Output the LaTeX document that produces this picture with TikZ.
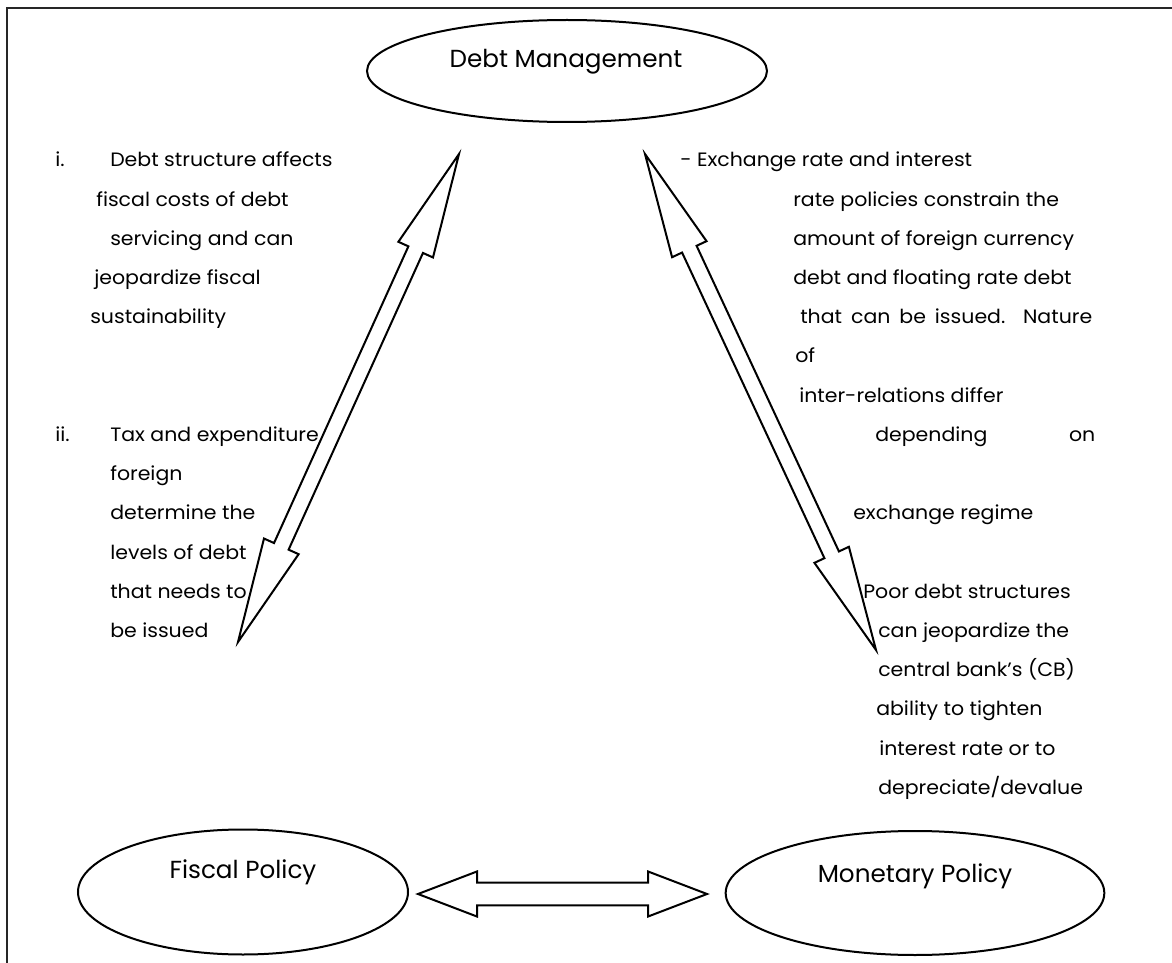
\documentclass[tikz,border=0pt]{standalone}
\usepackage{fontspec}
\setmainfont{Poppins}
\newfontfamily\bodyfam{Poppins}[FakeStretch=1.06]
\usetikzlibrary{shapes.geometric,calc}
\newcommand{\bodyfnt}{\bodyfam\fontsize{14.5}{17}\selectfont}
\newcommand{\titlefnt}{\fontsize{18.5}{22}\selectfont}
% block double arrow between two named points: #1 #2 headlen headhalf shafthalf
\newcommand{\blockarr}[5]{%
  \coordinate (ba1) at ($(#1)!#3!(#2)$);
  \coordinate (ba2) at ($(#2)!#3!(#1)$);
  \draw[arrline] (#1) -- ($(ba1)!#4!90:(#2)$) -- ($(ba1)!#5!90:(#2)$)
    -- ($(ba2)!#5!-90:(#1)$) -- ($(ba2)!#4!-90:(#1)$) -- (#2)
    -- ($(ba2)!#4!90:(#1)$) -- ($(ba2)!#5!90:(#1)$)
    -- ($(ba1)!#5!-90:(#2)$) -- ($(ba1)!#4!-90:(#2)$) -- cycle;
}
\tikzset{
  txt/.style={anchor=base west, inner sep=0pt, font=\bodyfnt, text=black},
  ttl/.style={anchor=base, inner sep=0pt, font=\titlefnt, text=black},
  ell/.style={draw=black, ellipse, line width=1.5pt, inner sep=0pt},
  arrline/.style={draw=black, line width=1.5pt, line join=miter, fill=white},
  frame/.style={draw=black!85, line width=2pt}
}
\begin{document}
\begin{tikzpicture}[x=0.75pt,y=-0.75pt]
\useasboundingbox (0,0) rectangle (1172,963);
\fill[white] (0,0) rectangle (1172,963);
% frame
\coordinate (fb) at (7,963);
\coordinate (fc) at (7,8);
\coordinate (fr) at (1172,8);
\draw[frame] (fb) -- (fc) -- (fr);

% ellipses
\node[ell, minimum width=300pt, minimum height=76.5pt] (dm) at (567,71) {};
\node[ttl] (dmt) at (566,68) {Debt Management};
\node[ell, minimum width=247.5pt, minimum height=93.75pt] (fp) at (243,892) {};
\node[ttl] (fpt) at (243,878) {Fiscal Policy};
\node[ell, minimum width=284pt, minimum height=93pt] (mp) at (915,893) {};
\node[ttl] (mpt) at (915,882) {Monetary Policy};

% arrow end points
\coordinate (lt) at (459,154);
\coordinate (lb) at (238,642);
\coordinate (rt) at (645,154);
\coordinate (rb) at (876,650);
\coordinate (hl) at (418,894);
\coordinate (hr) at (707,894);
\blockarr{lt}{lb}{78.75pt}{14.25pt}{6pt}
\blockarr{rt}{rb}{78.75pt}{14.25pt}{6pt}
\blockarr{hl}{hr}{44.25pt}{16.9pt}{8.6pt}

% left texts
\node[txt] (l0) at (55,167) {\makebox[41.25pt][l]{i.}Debt structure affects};
\node[txt] (l1) at (96,206.2) {fiscal costs of debt};
\node[txt] (l2) at (110,245.4) {servicing and can};
\node[txt] (l3) at (94,284.6) {jeopardize fiscal};
\node[txt] (l4) at (90,323.8) {sustainability};
\node[txt] (l7) at (55,441.4) {\makebox[41.25pt][l]{ii.}Tax and expenditure};
\node[txt] (l8) at (110,480.6) {foreign};
\node[txt] (l9) at (110,519.8) {determine the};
\node[txt] (l10) at (110,559) {levels of debt};
\node[txt] (l11) at (110,598.2) {that needs to};
\node[txt] (l12) at (110,637.4) {be issued};

% right texts
\node[txt] (r0) at (680,167) {- Exchange rate and interest};
\node[txt] (r1) at (793,206.2) {rate policies constrain the};
\node[txt] (r2) at (793,245.4) {amount of foreign currency};
\node[txt] (r3) at (793,284.6) {debt and floating rate debt};
\node[txt] (r4) at (800,323.8) {\makebox[219pt][s]{that can be issued. Nature}};
\node[txt] (r5) at (795,363) {of};
\node[txt] (r6) at (799,402.2) {inter-relations differ};
\node[txt] (r7) at (875,441.4) {\makebox[165pt][s]{depending on}};
\node[txt] (r9) at (853,519.8) {exchange regime};
\node[txt] (r11) at (863,598.2) {Poor debt structures};
\node[txt] (r12) at (878,637.4) {can jeopardize the};
\node[txt] (r13) at (878,676.6) {central bank’s (CB)};
\node[txt] (r14) at (876,715.8) {ability to tighten};
\node[txt] (r15) at (879,755) {interest rate or to};
\node[txt] (r16) at (878,794.2) {depreciate/devalue};
\end{tikzpicture}
\end{document}
